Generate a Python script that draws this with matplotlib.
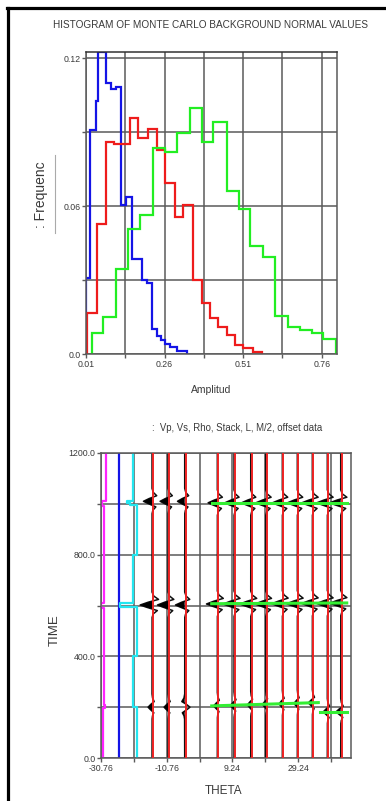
import matplotlib
matplotlib.use("Agg")
import matplotlib.pyplot as plt
import numpy as np
from matplotlib.lines import Line2D

plt.rcParams['font.family'] = ['Liberation Sans', 'DejaVu Sans']

# ---- histogram data (bin edges, heights) ----
blue_edges = [0.010, 0.0227, 0.0418, 0.0491, 0.0736, 0.0886, 0.1055, 0.1204, 0.1373, 0.1554,
              0.1872, 0.2031, 0.2190, 0.2349, 0.2486, 0.2614, 0.2773, 0.2995, 0.3304]
blue_freq = [0.0308, 0.0909, 0.1027, 0.1225, 0.1099, 0.1074, 0.1085, 0.0605, 0.0638,
             0.0384, 0.0300, 0.0289, 0.0100, 0.0075, 0.0057, 0.0042, 0.0028, 0.0014]

red_edges = [0.0122, 0.0440, 0.0736, 0.0991, 0.1500, 0.1764, 0.2082, 0.2349, 0.2614, 0.2932,
             0.3196, 0.3495, 0.3781, 0.4045, 0.4309, 0.4577, 0.4841, 0.5105, 0.5423, 0.5690]
red_freq = [0.0165, 0.0528, 0.0862, 0.0852, 0.0959, 0.0875, 0.0912, 0.0828, 0.0693, 0.0557,
            0.0605, 0.0300, 0.0206, 0.0145, 0.0110, 0.0077, 0.0037, 0.0023, 0.0009]

green_edges = [0.0281, 0.0650, 0.1055, 0.1446, 0.1818, 0.2241, 0.2614, 0.2986, 0.3409, 0.3781,
               0.4150, 0.4577, 0.4977, 0.5318, 0.5722, 0.6129, 0.6511, 0.6909, 0.7306, 0.7650, 0.8064]
green_freq = [0.0086, 0.0151, 0.0345, 0.0506, 0.0564, 0.0835, 0.0821, 0.0899, 0.0997, 0.0862,
              0.0940, 0.0663, 0.0589, 0.0438, 0.0392, 0.0154, 0.0110, 0.0097, 0.0084, 0.0062]

hist_xticks = [0.01, 0.135, 0.26, 0.385, 0.51, 0.635, 0.76]
hist_xlabels = ['0.01', '', '0.26', '', '0.51', '', '0.76']
hist_yticks = [0.0, 0.03, 0.06, 0.09, 0.12]
hist_ylabels = ['0.0', '', '0.06', '', '0.12']

# ---- well logs (time, theta position) ----
mag_t = [0, 195, 195, 208, 208, 592, 592, 610, 610, 990, 990, 1012, 1012, 1200]
mag_x = [-30.06, -30.06, -29.4, -29.4, -29.76, -29.76, -30.7, -30.7, -29.76, -29.76,
         -30.55, -30.55, -29.33, -29.33]
blue_log_t = [0, 1200]
blue_log_x = [-25.3, -25.3]
cyan_t = [0, 200, 200, 400, 400, 595, 595, 610, 610, 800, 800, 995, 995, 1003, 1003,
          1012, 1012, 1200]
cyan_x = [-19.9, -19.9, -20.93, -20.93, -19.9, -19.9, -24.97, -24.97, -20.93, -20.93,
          -19.9, -19.9, -21.8, -21.8, -22.7, -22.7, -20.93, -20.93]

# ---- seismic traces ----
trace_x = [-14.93, -10.06, -4.98, 4.95, 10.03, 15.12, 19.68, 24.74, 29.30, 33.87, 38.43, 42.51]
ev1_t = [1010, 1010, 1010, 1004, 1004, 1004, 1004, 1004, 1004, 1004, 1004, 1004]
ev1_amp = [2.6, 2.4, 2.2, 2.8, 2.8, 2.8, 3.0, 3.0, 3.0, 3.2, 3.2, 3.4]
ev2_t = [602, 602, 602, 606, 606, 606, 606, 607, 607, 608, 608, 609]
ev2_amp = [3.6, 3.2, 2.8, 3.3, 3.3, 3.3, 3.2, 3.2, 3.2, 3.2, 3.2, 3.4]
ev3_t = [200, 200, 200, 205, 207, 209, 211, 213, 215, 217, 182, 182]
ev3_amp = [1.2, 1.2, -1.6, 1.1, 1.1, 1.0, 1.0, 1.0, 1.0, 1.2, 1.2, 1.4]
wave_dt = [-50, -35, -22, -10, 0, 10, 22, 35, 50]
wave_amp = [0.0, 0.1, 0.45, -0.4, -1.0, -0.4, 0.55, 0.15, 0.0]

# ---- picked horizons ----
pick1_x = [2.94, 44.04]
pick1_t = [1004, 1004]
pick2_x = [2.94, 44.04]
pick2_t = [607, 610]
pick3_x = [2.94, 35.39]
pick3_t = [205, 218]
pick4_x = [35.9, 44.04]
pick4_t = [182, 182]

seis_xticks = [-30.76, -20.76, -10.76, -0.76, 9.24, 19.24, 29.24, 39.24]
seis_xlabels = ['-30.76', '', '-10.76', '', '9.24', '', '29.24', '']
seis_yticks = [0, 200, 400, 600, 800, 1000, 1200]
seis_ylabels = ['0.0', '', '400.0', '', '800.0', '', '1200.0']

W, H = 386, 801
fig = plt.figure(figsize=(W / 100, H / 100), dpi=100)
txt = '#3a3a3a'
gridc = '#5a5a5a'

# outer black frame
fig.add_artist(Line2D([8.3 / W, 8.3 / W], [0, 1 - 7.5 / H], color='black', lw=2.3,
                      transform=fig.transFigure))
fig.add_artist(Line2D([7.2 / W, 1], [1 - 7.7 / H, 1 - 7.7 / H], color='black', lw=2.3,
                      transform=fig.transFigure))

# ---------------- histogram ----------------
ax1 = fig.add_axes([86 / W, 1 - 354 / H, (336.5 - 86) / W, (354 - 51.7) / H])
ax1.set_xlim(0.01, 0.807)
ax1.set_ylim(0, 0.1227)
ax1.set_xticks(hist_xticks)
ax1.set_xticklabels(hist_xlabels)
ax1.set_yticks(hist_yticks)
ax1.set_yticklabels(hist_ylabels)
ax1.grid(True, color=gridc, lw=1.1)
ax1.set_axisbelow(True)
ax1.stairs(blue_freq, blue_edges, color='#1414e6', lw=1.6)
ax1.stairs(red_freq, red_edges, color='#ee1c1c', lw=1.6)
ax1.stairs(green_freq, green_edges, color='#22ee22', lw=1.6)
ax1.tick_params(length=3, width=1, color=gridc, labelsize=6.3, labelcolor=txt, pad=1)
for s in ax1.spines.values():
    s.set_color(gridc)
    s.set_linewidth(1.1)
ax1.spines['top'].set_color('#333333')
ax1.set_xlabel('Amplitud', fontsize=7.5, color=txt, labelpad=12)
fig.text(210.5 / W, 1 - 25 / H, 'HISTOGRAM OF MONTE CARLO BACKGROUND NORMAL VALUES',
         ha='center', va='center', fontsize=7.2, color=txt)
fig.text(41 / W, 1 - 195 / H, ': Frequenc', rotation=90, ha='center', va='center',
         fontsize=10, color=txt)
fig.add_artist(Line2D([55 / W, 55 / W], [1 - 233 / H, 1 - 155 / H], color='#aaaaaa', lw=0.8,
                      transform=fig.transFigure))

# ---------------- seismic gather ----------------
ax2 = fig.add_axes([101 / W, 1 - 758 / H, (351 - 101) / W, (758 - 453) / H])
ax2.set_xlim(-30.76, 45.34)
ax2.set_ylim(0, 1200)
ax2.set_xticks(seis_xticks)
ax2.set_xticklabels(seis_xlabels)
ax2.set_yticks(seis_yticks)
ax2.set_yticklabels(seis_ylabels)
ax2.grid(True, color=gridc, lw=1.1)
ax2.set_axisbelow(True)
ax2.tick_params(length=3, width=1, color=gridc, labelsize=6.3, labelcolor=txt, pad=1)
for s in ax2.spines.values():
    s.set_color(gridc)
    s.set_linewidth(1.1)

ax2.plot(mag_x, mag_t, color='#ff22ff', lw=1.6)
ax2.plot(blue_log_x, blue_log_t, color='#1414e6', lw=1.6)
ax2.plot(cyan_x, cyan_t, color='#22e6f0', lw=1.6)

t = np.arange(0, 1201, 1.0)
for i, x0 in enumerate(trace_x):
    base = x0 - 0.3
    w = np.full_like(t, base)
    for te, a in ((ev1_t[i], ev1_amp[i]), (ev2_t[i], ev2_amp[i]), (ev3_t[i], ev3_amp[i])):
        w = w + a * np.interp(t - te, wave_dt, wave_amp, left=0, right=0)
    ax2.plot(w, t, color='#111111', lw=1.1, zorder=2)
    ax2.fill_betweenx(t, w, base, where=w < base, color='black', lw=0, zorder=2)
    ax2.plot([x0, x0], [0, 1200], color='#ee2222', lw=1.4, zorder=3)

for px, pt in ((pick1_x, pick1_t), (pick2_x, pick2_t), (pick3_x, pick3_t), (pick4_x, pick4_t)):
    ax2.plot(px, pt, color='#33ee33', lw=2.2, zorder=4)

fig.text(237.5 / W, 1 - 428.3 / H, ':  Vp, Vs, Rho, Stack, L, M/2, offset data',
         ha='center', va='center', fontsize=6.9, color=txt)
fig.text(224 / W, 1 - 791 / H, 'THETA', ha='center', va='center', fontsize=8.5, color=txt)
fig.text(55 / W, 1 - 630 / H, 'TIME', rotation=90, ha='center', va='center',
         fontsize=9.5, color=txt)

fig.savefig('out.png', dpi=100)
